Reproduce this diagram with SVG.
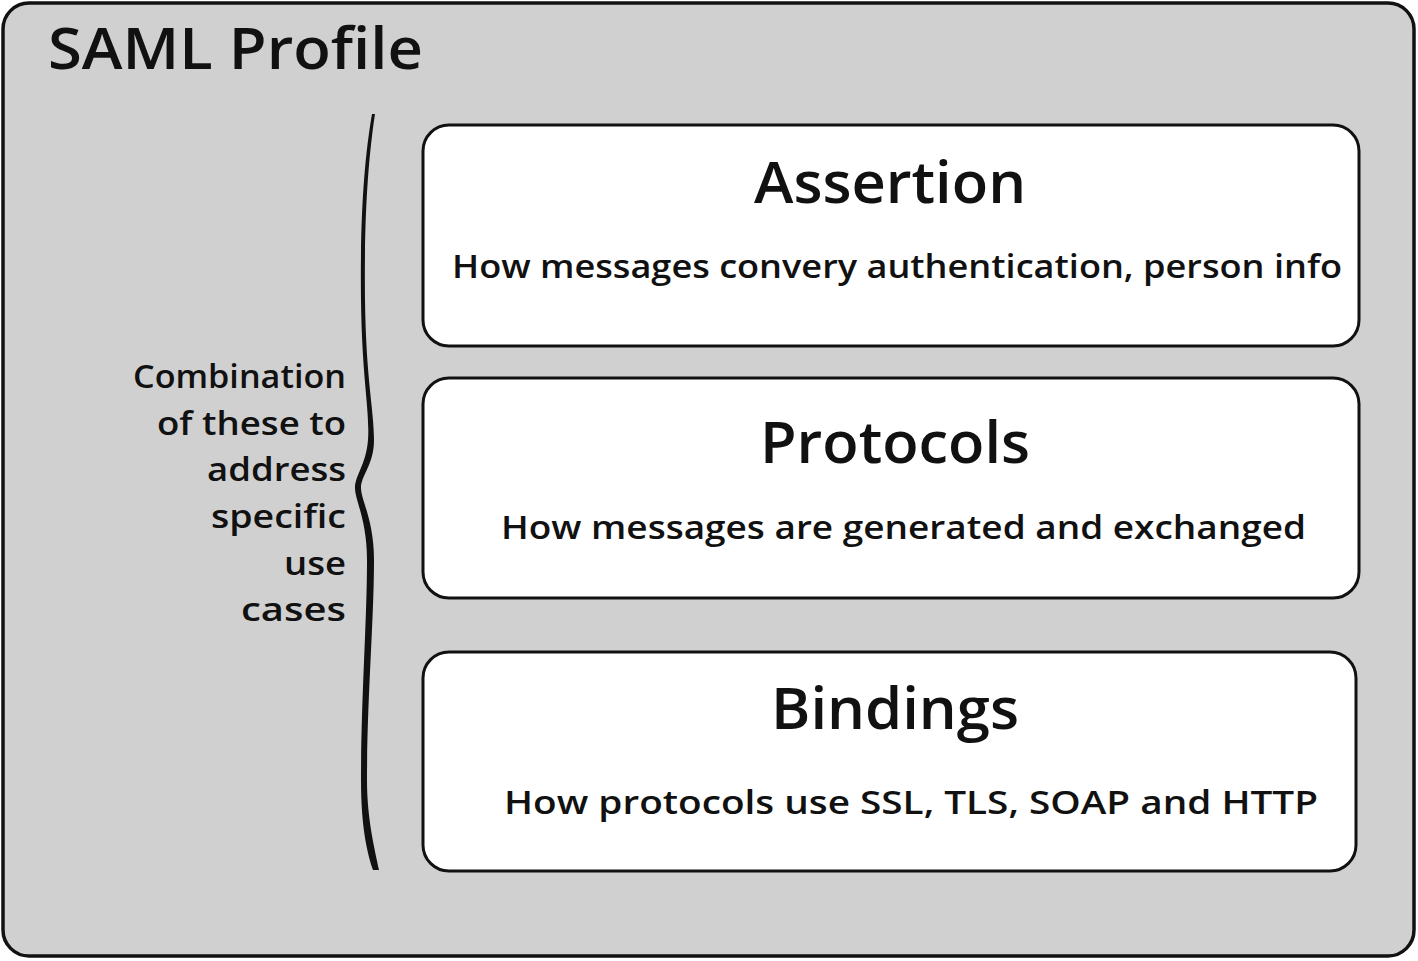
<svg xmlns="http://www.w3.org/2000/svg" width="1418" height="961" viewBox="0 0 1418 961">
<style>
text{font-family:"Open Sans","DejaVu Sans",sans-serif;fill:#111;font-weight:600;}
.box{fill:#fff;stroke:#111;stroke-width:3;}
.title{font-size:58px;text-anchor:middle;}
.sub{font-size:33px;}
.side{font-size:33px;}
</style>
<rect x="0" y="0" width="1418" height="961" fill="#fff"/>
<g id="profile">
<rect x="3" y="3" width="1411" height="953" rx="26" fill="#d0d0d0" stroke="#111" stroke-width="3.5"/>
<text x="48" y="69" font-size="58" textLength="375" lengthAdjust="spacingAndGlyphs">SAML Profile</text>
</g>
<g id="assertion">
<rect class="box" x="423" y="125" width="936" height="221" rx="26"/>
<text class="title" x="890" y="203" textLength="272" lengthAdjust="spacingAndGlyphs">Assertion</text>
<text class="sub" x="452" y="278" textLength="890" lengthAdjust="spacingAndGlyphs">How messages convery authentication, person info</text>
</g>
<g id="protocols">
<rect class="box" x="423" y="378" width="936" height="220" rx="26"/>
<text class="title" x="895" y="463" textLength="270" lengthAdjust="spacingAndGlyphs">Protocols</text>
<text class="sub" x="501" y="539" textLength="805" lengthAdjust="spacingAndGlyphs">How messages are generated and exchanged</text>
</g>
<g id="bindings">
<rect class="box" x="423" y="652" width="933" height="219" rx="26"/>
<text class="title" x="895" y="729" textLength="248" lengthAdjust="spacingAndGlyphs">Bindings</text>
<text class="sub" x="504" y="814" textLength="814" lengthAdjust="spacingAndGlyphs">How protocols use SSL, TLS, SOAP and HTTP</text>
</g>
<g id="combination">
<text class="side" x="133" y="388" textLength="213" lengthAdjust="spacingAndGlyphs">Combination</text>
<text class="side" x="157" y="435" textLength="189" lengthAdjust="spacingAndGlyphs">of these to</text>
<text class="side" x="207" y="481" textLength="139" lengthAdjust="spacingAndGlyphs">address</text>
<text class="side" x="211" y="528" textLength="135" lengthAdjust="spacingAndGlyphs">specific</text>
<text class="side" x="284" y="575" textLength="62" lengthAdjust="spacingAndGlyphs">use</text>
<text class="side" x="241" y="621" textLength="105" lengthAdjust="spacingAndGlyphs">cases</text>
</g>
<g id="connectors">
<path fill="#111" d="M372,114 C364,160 360,220 361,300 C362,380 370,410 368,440 C366,465 355,475 355,488 C355,500 367,520 367,560 C367,620 361,700 361,780 C361,830 368,855 373,870 L379,870 C375,850 367,820 367,780 C367,700 374,620 374,560 C374,520 361,500 361,488 C361,475 374,465 374,440 C374,410 366,380 365,300 C364,220 368,160 375,114 Z"/>
</g>
</svg>
